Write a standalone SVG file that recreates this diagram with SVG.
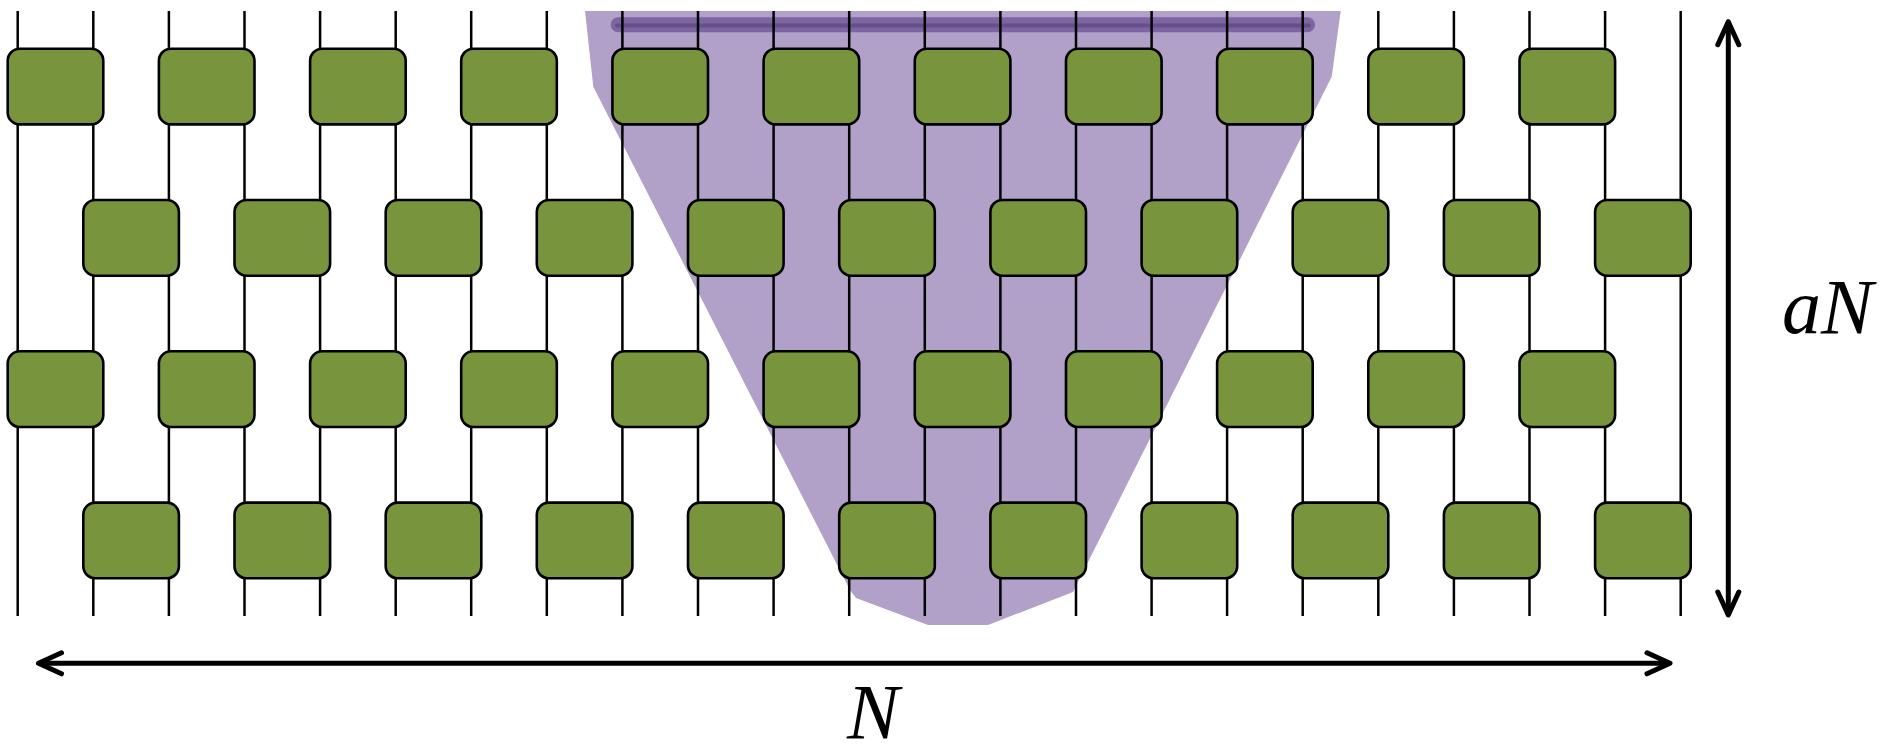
<svg xmlns="http://www.w3.org/2000/svg" width="1887" height="755" viewBox="0 0 1887 755">
  <style>
    .wire { stroke: #000; stroke-width: 2.5; fill: none; }
    .gate { fill: #78943d; stroke: #000; stroke-width: 2.6; }
    .arrow { stroke: #000; stroke-width: 5; fill: none; marker-start: url(#chev); marker-end: url(#chev); }
    .lbl { font-family: "Liberation Serif", "Times New Roman", serif; font-style: italic; font-size: 78px; fill: #000; }
  </style>
  <defs>
    <marker id="chev" markerUnits="userSpaceOnUse" viewBox="-30 -15 36 30" markerWidth="36" markerHeight="30" refX="0" refY="0" orient="auto-start-reverse" overflow="visible">
      <path d="M-23,-10.5 L0,0 L-23,10.5" fill="none" stroke="#000" stroke-width="5" stroke-linecap="round" stroke-linejoin="round"/>
    </marker>
  </defs>
  <rect width="1887" height="755" fill="#fff"/>

  <g id="lightcone">
    <polygon points="585,11 593.3,86.7 850,590 856,598 928,625 988,625 1073,592 1331.7,76.7 1340.7,11" fill="#b1a1c8"/>
    <rect x="610.7" y="17.2" width="704.3" height="15" rx="7.5" fill="#7e64a2"/>
    <line x1="617" y1="25.5" x2="1309" y2="25.5" stroke="#66508a" stroke-width="4" stroke-linecap="round"/>
  </g>

  <g id="wires">
    <line class="wire" x1="17.7" y1="11" x2="17.7" y2="616"/>
    <line class="wire" x1="93.3" y1="11" x2="93.3" y2="616"/>
    <line class="wire" x1="168.9" y1="11" x2="168.9" y2="616"/>
    <line class="wire" x1="244.5" y1="11" x2="244.5" y2="616"/>
    <line class="wire" x1="320.1" y1="11" x2="320.1" y2="616"/>
    <line class="wire" x1="395.7" y1="11" x2="395.7" y2="616"/>
    <line class="wire" x1="471.2" y1="11" x2="471.2" y2="616"/>
    <line class="wire" x1="546.8" y1="11" x2="546.8" y2="616"/>
    <line class="wire" x1="622.4" y1="11" x2="622.4" y2="616"/>
    <line class="wire" x1="698.0" y1="11" x2="698.0" y2="616"/>
    <line class="wire" x1="773.6" y1="11" x2="773.6" y2="616"/>
    <line class="wire" x1="849.2" y1="11" x2="849.2" y2="616"/>
    <line class="wire" x1="924.8" y1="11" x2="924.8" y2="616"/>
    <line class="wire" x1="1000.4" y1="11" x2="1000.4" y2="616"/>
    <line class="wire" x1="1076.0" y1="11" x2="1076.0" y2="616"/>
    <line class="wire" x1="1151.6" y1="11" x2="1151.6" y2="616"/>
    <line class="wire" x1="1227.1" y1="11" x2="1227.1" y2="616"/>
    <line class="wire" x1="1302.7" y1="11" x2="1302.7" y2="616"/>
    <line class="wire" x1="1378.3" y1="11" x2="1378.3" y2="616"/>
    <line class="wire" x1="1453.9" y1="11" x2="1453.9" y2="616"/>
    <line class="wire" x1="1529.5" y1="11" x2="1529.5" y2="616"/>
    <line class="wire" x1="1605.1" y1="11" x2="1605.1" y2="616"/>
    <line class="wire" x1="1680.7" y1="11" x2="1680.7" y2="616"/>
  </g>

  <g id="row1">
    <g id="g1-1"><rect class="gate" x="7.7" y="48.7" width="95.6" height="75.7" rx="12"/></g>
    <g id="g1-2"><rect class="gate" x="158.9" y="48.7" width="95.6" height="75.7" rx="12"/></g>
    <g id="g1-3"><rect class="gate" x="310.1" y="48.7" width="95.6" height="75.7" rx="12"/></g>
    <g id="g1-4"><rect class="gate" x="461.2" y="48.7" width="95.6" height="75.7" rx="12"/></g>
    <g id="g1-5"><rect class="gate" x="612.4" y="48.7" width="95.6" height="75.7" rx="12"/></g>
    <g id="g1-6"><rect class="gate" x="763.6" y="48.7" width="95.6" height="75.7" rx="12"/></g>
    <g id="g1-7"><rect class="gate" x="914.8" y="48.7" width="95.6" height="75.7" rx="12"/></g>
    <g id="g1-8"><rect class="gate" x="1066.0" y="48.7" width="95.6" height="75.7" rx="12"/></g>
    <g id="g1-9"><rect class="gate" x="1217.1" y="48.7" width="95.6" height="75.7" rx="12"/></g>
    <g id="g1-10"><rect class="gate" x="1368.3" y="48.7" width="95.6" height="75.7" rx="12"/></g>
    <g id="g1-11"><rect class="gate" x="1519.5" y="48.7" width="95.6" height="75.7" rx="12"/></g>
  </g>
  <g id="row2">
    <g id="g2-1"><rect class="gate" x="83.3" y="200" width="95.6" height="75.7" rx="12"/></g>
    <g id="g2-2"><rect class="gate" x="234.5" y="200" width="95.6" height="75.7" rx="12"/></g>
    <g id="g2-3"><rect class="gate" x="385.7" y="200" width="95.6" height="75.7" rx="12"/></g>
    <g id="g2-4"><rect class="gate" x="536.8" y="200" width="95.6" height="75.7" rx="12"/></g>
    <g id="g2-5"><rect class="gate" x="688.0" y="200" width="95.6" height="75.7" rx="12"/></g>
    <g id="g2-6"><rect class="gate" x="839.2" y="200" width="95.6" height="75.7" rx="12"/></g>
    <g id="g2-7"><rect class="gate" x="990.4" y="200" width="95.6" height="75.7" rx="12"/></g>
    <g id="g2-8"><rect class="gate" x="1141.6" y="200" width="95.6" height="75.7" rx="12"/></g>
    <g id="g2-9"><rect class="gate" x="1292.7" y="200" width="95.6" height="75.7" rx="12"/></g>
    <g id="g2-10"><rect class="gate" x="1443.9" y="200" width="95.6" height="75.7" rx="12"/></g>
    <g id="g2-11"><rect class="gate" x="1595.1" y="200" width="95.6" height="75.7" rx="12"/></g>
  </g>
  <g id="row3">
    <g id="g3-1"><rect class="gate" x="7.7" y="351.3" width="95.6" height="75.7" rx="12"/></g>
    <g id="g3-2"><rect class="gate" x="158.9" y="351.3" width="95.6" height="75.7" rx="12"/></g>
    <g id="g3-3"><rect class="gate" x="310.1" y="351.3" width="95.6" height="75.7" rx="12"/></g>
    <g id="g3-4"><rect class="gate" x="461.2" y="351.3" width="95.6" height="75.7" rx="12"/></g>
    <g id="g3-5"><rect class="gate" x="612.4" y="351.3" width="95.6" height="75.7" rx="12"/></g>
    <g id="g3-6"><rect class="gate" x="763.6" y="351.3" width="95.6" height="75.7" rx="12"/></g>
    <g id="g3-7"><rect class="gate" x="914.8" y="351.3" width="95.6" height="75.7" rx="12"/></g>
    <g id="g3-8"><rect class="gate" x="1066.0" y="351.3" width="95.6" height="75.7" rx="12"/></g>
    <g id="g3-9"><rect class="gate" x="1217.1" y="351.3" width="95.6" height="75.7" rx="12"/></g>
    <g id="g3-10"><rect class="gate" x="1368.3" y="351.3" width="95.6" height="75.7" rx="12"/></g>
    <g id="g3-11"><rect class="gate" x="1519.5" y="351.3" width="95.6" height="75.7" rx="12"/></g>
  </g>
  <g id="row4">
    <g id="g4-1"><rect class="gate" x="83.3" y="502.6" width="95.6" height="75.7" rx="12"/></g>
    <g id="g4-2"><rect class="gate" x="234.5" y="502.6" width="95.6" height="75.7" rx="12"/></g>
    <g id="g4-3"><rect class="gate" x="385.7" y="502.6" width="95.6" height="75.7" rx="12"/></g>
    <g id="g4-4"><rect class="gate" x="536.8" y="502.6" width="95.6" height="75.7" rx="12"/></g>
    <g id="g4-5"><rect class="gate" x="688.0" y="502.6" width="95.6" height="75.7" rx="12"/></g>
    <g id="g4-6"><rect class="gate" x="839.2" y="502.6" width="95.6" height="75.7" rx="12"/></g>
    <g id="g4-7"><rect class="gate" x="990.4" y="502.6" width="95.6" height="75.7" rx="12"/></g>
    <g id="g4-8"><rect class="gate" x="1141.6" y="502.6" width="95.6" height="75.7" rx="12"/></g>
    <g id="g4-9"><rect class="gate" x="1292.7" y="502.6" width="95.6" height="75.7" rx="12"/></g>
    <g id="g4-10"><rect class="gate" x="1443.9" y="502.6" width="95.6" height="75.7" rx="12"/></g>
    <g id="g4-11"><rect class="gate" x="1595.1" y="502.6" width="95.6" height="75.7" rx="12"/></g>
  </g>

  <g id="connectors">
    <path class="arrow" d="M38.5,663.3 L1670,663.3"/>
    <path class="arrow" d="M1728.3,21.7 L1728.3,615"/>
  </g>

  <g id="labels">
    <text class="lbl" x="847" y="738">N</text>
    <text class="lbl" x="1782" y="333">aN</text>
  </g>
</svg>
